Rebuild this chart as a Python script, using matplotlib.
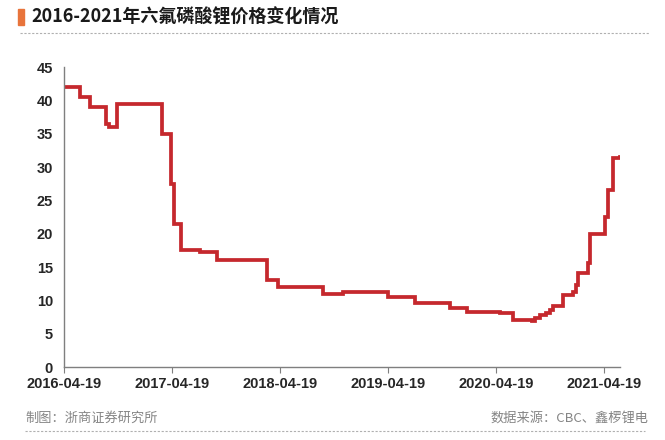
import matplotlib.pyplot as plt
import matplotlib.dates as mdates
import pandas as pd

plt.rcParams['font.family'] = ['Noto Sans CJK SC', 'DejaVu Sans']

title = '2016-2021年六氟磷酸锂价格变化情况'
left_note = '制图：浙商证券研究所'
right_note = '数据来源：CBC、鑫椤锂电'

# 六氟磷酸锂价格 (万元/吨)
dates = ['2016-04-19', '2016-06-12', '2016-07-16', '2016-09-08', '2016-09-18',
         '2016-10-15', '2017-03-16', '2017-04-16', '2017-04-26', '2017-05-20',
         '2017-07-23', '2017-09-18', '2018-03-06', '2018-04-12', '2018-09-11',
         '2018-11-18', '2019-04-19', '2019-07-19', '2019-11-14', '2020-01-11',
         '2020-03-04', '2020-05-02', '2020-06-13', '2020-07-25', '2020-08-18',
         '2020-08-28', '2020-09-14', '2020-10-04', '2020-10-18', '2020-10-28',
         '2020-12-01', '2021-01-04', '2021-01-14', '2021-01-21', '2021-02-23',
         '2021-03-02', '2021-04-22', '2021-05-02', '2021-05-19', '2021-06-11']
prices = [42.0, 40.5, 39.0, 36.5, 36.0,
          39.5, 35.0, 27.5, 21.5, 17.5,
          17.2, 16.0, 13.0, 12.0, 11.0,
          11.2, 10.5, 9.6, 8.8, 8.3,
          8.2, 8.1, 7.1, 7.0, 6.9,
          7.3, 7.8, 8.1, 8.6, 9.1,
          10.8, 11.3, 12.3, 14.1, 15.6,
          20.0, 22.5, 26.5, 31.4, 31.5]
tick_dates = ['2016-04-19', '2017-04-19', '2018-04-19', '2019-04-19', '2020-04-19', '2021-04-19']

dates = pd.to_datetime(dates)
tick_dates = pd.to_datetime(tick_dates)

fig = plt.figure(figsize=(6.65, 4.4), dpi=100)
ax = fig.add_axes([64 / 665, 1 - 367 / 440, (620 - 64) / 665, 300 / 440])

ax.plot(dates, prices, color='#c5282d', lw=2.7, drawstyle='steps-post', solid_joinstyle='miter')

ax.set_xlim(dates[0], dates[-1])
ax.set_ylim(0, 45)
ax.set_yticks(range(0, 46, 5))
ax.set_xticks(tick_dates)
ax.xaxis.set_major_formatter(mdates.DateFormatter('%Y-%m-%d'))

for s in ['top', 'right']:
    ax.spines[s].set_visible(False)
for s in ['left', 'bottom']:
    ax.spines[s].set_color('#7f7f7f')
    ax.spines[s].set_linewidth(1.0)
ax.tick_params(axis='x', length=4, color='#7f7f7f', pad=3)
ax.tick_params(axis='y', length=0, pad=8)
for lab in ax.get_xticklabels() + ax.get_yticklabels():
    lab.set_family(['Liberation Sans', 'DejaVu Sans'])
    lab.set_fontweight('bold')
    lab.set_fontsize(10.5)
    lab.set_color('#262626')

# title block
fig.patches.append(plt.Rectangle((18 / 665, 1 - 25 / 440), 6 / 665, 16 / 440,
                                 transform=fig.transFigure, color='#e8743b'))
fig.text(31 / 665, 1 - 17 / 440, title, fontsize=13, fontweight='bold',
         color='#1a1a1a', va='center', ha='left')
fig.add_artist(plt.Line2D([20 / 665, 650 / 665], [1 - 33 / 440, 1 - 33 / 440],
                          color='#b0b0b0', lw=0.8, ls=(0, (2, 1.5))))

# footer
fig.text(25 / 665, 1 - 418 / 440, left_note, fontsize=9.5, color='#858585', va='center')
fig.text(648 / 665, 1 - 418 / 440, right_note, fontsize=9.5, color='#858585',
         va='center', ha='right')
fig.add_artist(plt.Line2D([25 / 665, 645 / 665], [1 - 431 / 440, 1 - 431 / 440],
                          color='#b0b0b0', lw=0.8, ls=(0, (2, 1.5))))

fig.savefig('out.png', dpi=100)
